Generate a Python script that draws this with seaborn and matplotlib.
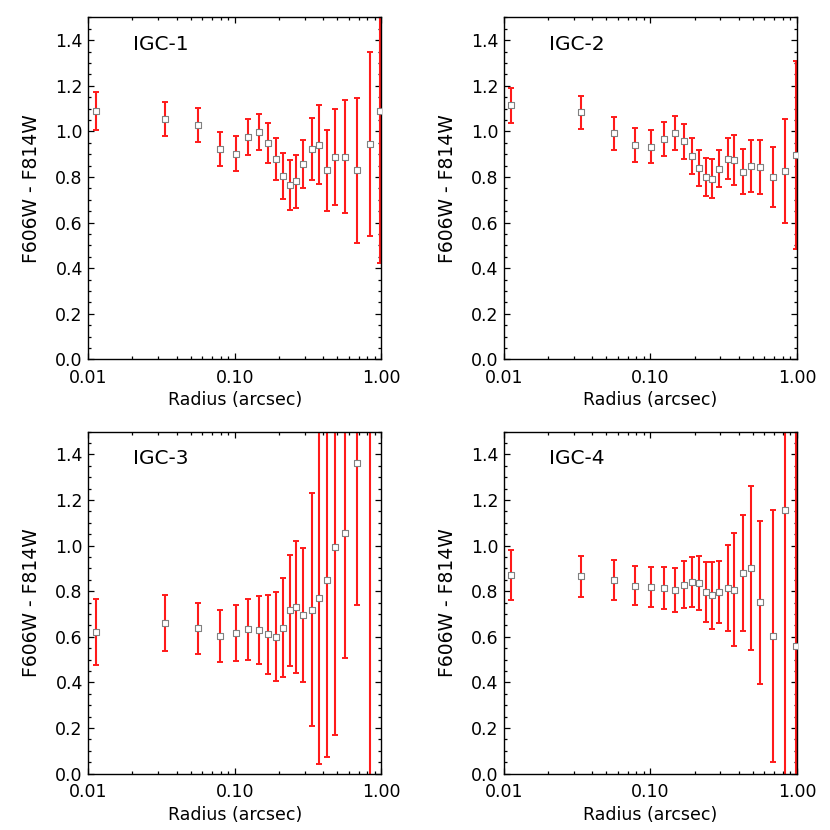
import numpy as np
import pandas as pd
import matplotlib
matplotlib.use('Agg')
import matplotlib.pyplot as plt
from matplotlib.ticker import MultipleLocator, LogLocator, FuncFormatter, NullFormatter
import seaborn as sns

# ------------------------------------------------------------
# data
# ------------------------------------------------------------
radius = [0.0112, 0.0335, 0.0561, 0.0789, 0.1016, 0.124, 0.1467, 0.169, 0.192,
          0.214, 0.238, 0.261, 0.294, 0.337, 0.374, 0.425, 0.484, 0.561, 0.682,
          0.832, 0.985]

igc1_color = [1.089, 1.054, 1.028, 0.923, 0.902, 0.975, 0.997, 0.949, 0.877, 0.804,
              0.765, 0.780, 0.857, 0.923, 0.942, 0.829, 0.888, 0.888, 0.829, 0.945, 1.089]
igc1_err = [0.082, 0.076, 0.075, 0.076, 0.076, 0.079, 0.081, 0.086, 0.092, 0.099,
            0.108, 0.117, 0.107, 0.136, 0.173, 0.178, 0.212, 0.248, 0.317, 0.405, 0.666]

igc2_color = [1.115, 1.083, 0.991, 0.940, 0.933, 0.965, 0.993, 0.956, 0.892, 0.839,
              0.799, 0.793, 0.836, 0.880, 0.874, 0.823, 0.850, 0.842, 0.800, 0.826, 0.896]
igc2_err = [0.077, 0.074, 0.073, 0.073, 0.073, 0.074, 0.075, 0.077, 0.077, 0.080,
            0.084, 0.085, 0.082, 0.091, 0.111, 0.099, 0.114, 0.118, 0.132, 0.226, 0.411]

igc3_color = [0.620, 0.661, 0.637, 0.605, 0.617, 0.633, 0.630, 0.611, 0.601, 0.640,
              0.716, 0.731, 0.694, 0.718, 0.769, 0.848, 0.993, 1.054, 1.361, 1.70, np.nan]
igc3_err = [0.144, 0.121, 0.113, 0.115, 0.123, 0.134, 0.149, 0.172, 0.194, 0.216,
            0.244, 0.291, 0.294, 0.511, 0.728, 0.773, 0.823, 0.548, 0.623, 1.90, np.nan]

igc4_color = [0.870, 0.865, 0.848, 0.825, 0.820, 0.816, 0.804, 0.829, 0.839, 0.835,
              0.797, 0.782, 0.797, 0.813, 0.806, 0.880, 0.902, 0.751, 0.604, 1.155, 0.560]
igc4_err = [0.110, 0.090, 0.087, 0.087, 0.088, 0.092, 0.096, 0.102, 0.110, 0.118,
            0.130, 0.147, 0.135, 0.189, 0.248, 0.254, 0.358, 0.358, 0.553, 1.30, 1.20]

names = ['IGC-1', 'IGC-2', 'IGC-3', 'IGC-4']
colors = [igc1_color, igc2_color, igc3_color, igc4_color]
errors = [igc1_err, igc2_err, igc3_err, igc4_err]

# ------------------------------------------------------------
# style
# ------------------------------------------------------------
sns.set_theme(style='white')
plt.rcParams['font.family'] = ['DejaVu Sans']
plt.rcParams['axes.edgecolor'] = 'black'
plt.rcParams['axes.linewidth'] = 1.0
plt.rcParams['text.color'] = 'black'
plt.rcParams['axes.labelcolor'] = 'black'
plt.rcParams['xtick.color'] = 'black'
plt.rcParams['ytick.color'] = 'black'

fig = plt.figure(figsize=(8.3, 8.3), dpi=100)

positions = [
    [0.1064, 0.5671, 0.3530, 0.4120],
    [0.6072, 0.5671, 0.3530, 0.4120],
    [0.1064, 0.0679, 0.3530, 0.4120],
    [0.6072, 0.0679, 0.3530, 0.4120],
]

for name, col, err, pos in zip(names, colors, errors, positions):
    ax = fig.add_axes(pos)
    df = pd.DataFrame({'radius': radius, 'color': col, 'err': err})

    ax.errorbar(df['radius'], df['color'], yerr=df['err'], fmt='none',
                ecolor='#ff1a1a', elinewidth=1.5, capsize=2.0, capthick=1.4, zorder=2)
    sns.scatterplot(data=df, x='radius', y='color', marker='s', s=24,
                    facecolor='white', edgecolor='#808080', linewidth=0.8,
                    ax=ax, zorder=3)

    ax.set_xscale('log')
    ax.set_xlim(0.01, 1.0)
    ax.set_ylim(0.0, 1.5)

    ax.xaxis.set_major_locator(LogLocator(base=10, numticks=5))
    ax.xaxis.set_major_formatter(FuncFormatter(lambda v, p: f'{v:.2f}'))
    ax.xaxis.set_minor_locator(LogLocator(base=10, subs=np.arange(2, 10), numticks=20))
    ax.xaxis.set_minor_formatter(NullFormatter())
    ax.yaxis.set_major_locator(MultipleLocator(0.2))
    ax.yaxis.set_minor_locator(MultipleLocator(0.05))
    ax.yaxis.set_major_formatter(FuncFormatter(lambda v, p: f'{v:.1f}'))

    ax.tick_params(which='both', direction='in', top=True, right=True,
                   bottom=True, left=True, color='black', width=0.9)
    ax.tick_params(which='major', length=4.5)
    ax.tick_params(which='minor', length=2.2)
    ax.tick_params(axis='x', which='major', pad=7, labelsize=12.5)
    ax.tick_params(axis='y', which='major', pad=4, labelsize=12.5)

    ax.set_xlabel('Radius (arcsec)', fontsize=12.5, labelpad=3)
    ax.set_ylabel('F606W - F814W', fontsize=13.5, labelpad=10)

    ax.text(0.153, 0.905, name, transform=ax.transAxes, fontsize=14.5,
            ha='left', va='baseline', color='black')

    for s in ax.spines.values():
        s.set_visible(True)
        s.set_color('black')

plt.savefig('out.png', dpi=100)
